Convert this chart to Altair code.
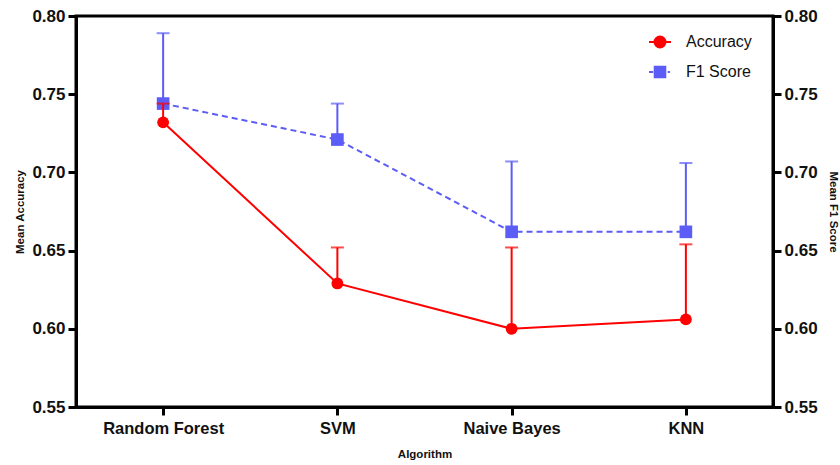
import altair as alt
import pandas as pd

algorithms = ["Random Forest", "SVM", "Naive Bayes", "KNN"]
accuracy = [0.732, 0.629, 0.600, 0.606]
accuracy_sd = [0.012, 0.023, 0.052, 0.048]
f1 = [0.744, 0.721, 0.662, 0.662]
f1_sd = [0.045, 0.023, 0.045, 0.044]
series = ["Accuracy", "F1 Score"]
y_ticks = [0.55, 0.60, 0.65, 0.70, 0.75, 0.80]

RED = "#ff0000"
BLUE = "#5c5cf6"
FONT = "Liberation Sans"

df = pd.DataFrame({
    "algorithm": algorithms,
    "acc": accuracy,
    "acc_hi": [a + s for a, s in zip(accuracy, accuracy_sd)],
    "f1": f1,
    "f1_hi": [a + s for a, s in zip(f1, f1_sd)],
})

base = alt.Chart(df)

x = alt.X(
    "algorithm:N",
    sort=algorithms,
    scale=alt.Scale(type="point", padding=0.5),
    axis=alt.Axis(title="Algorithm", labelAngle=0, labelPadding=5, labelFontSize=16.5,
                  titlePadding=12, titleFontSize=11.5, titleFontWeight="bold"),
)

yscale = alt.Scale(domain=[0.55, 0.80], nice=False, zero=False)

# F1 layer (right axis)
yf = alt.Y("f1:Q", scale=yscale,
           axis=alt.Axis(orient="right", title="Mean F1 Score", titleAngle=90,
                         values=y_ticks, format=".2f", titlePadding=10,
                         titleFontSize=11.5, titleFontWeight="bold"))
f1_line = base.mark_line(color=BLUE, strokeWidth=2, strokeDash=[6, 4]).encode(x=x, y=yf)
f1_rule = base.mark_rule(color=BLUE, strokeWidth=2).encode(x=x, y=yf, y2="f1_hi:Q")
f1_cap = base.mark_tick(color=BLUE, thickness=2, size=13).encode(
    x=x, y=alt.Y("f1_hi:Q", scale=yscale))
f1_pt = base.mark_point(shape="square", filled=True, size=160, color=BLUE, opacity=1).encode(x=x, y=yf)
f1_layer = alt.layer(f1_line, f1_rule, f1_cap, f1_pt)

# Accuracy layer (left axis)
ya = alt.Y("acc:Q", scale=yscale,
           axis=alt.Axis(orient="left", title="Mean Accuracy", values=y_ticks,
                         format=".2f", titlePadding=6, titleFontSize=11.5,
                         titleFontWeight="bold"))
acc_line = base.mark_line(color=RED, strokeWidth=2).encode(x=x, y=ya)
acc_rule = base.mark_rule(color=RED, strokeWidth=2).encode(x=x, y=ya, y2="acc_hi:Q")
acc_cap = base.mark_tick(color=RED, thickness=2, size=13).encode(
    x=x, y=alt.Y("acc_hi:Q", scale=yscale))
acc_pt = base.mark_point(shape="circle", filled=True, size=140, color=RED, opacity=1).encode(x=x, y=ya)

# Legend-only layer (no marks drawn)
leg_df = pd.DataFrame({"series": series})
acc_sym = "M-1,0L1,0M0.5,0A0.5,0.5,0,1,1,-0.5,0A0.5,0.5,0,1,1,0.5,0Z"
f1_sym = "M-1,0L-0.62,0M0.7,0L0.9,0M-0.48,-0.48L0.48,-0.48L0.48,0.48L-0.48,0.48Z"
legend_layer = alt.Chart(leg_df).transform_filter("false").mark_point(filled=True, opacity=1).encode(
    fill=alt.Fill("series:N", scale=alt.Scale(domain=series, range=[RED, BLUE]),
                  legend=alt.Legend(title=None, orient="none", legendX=572, legendY=14,
                                    symbolSize=484, symbolStrokeWidth=2, symbolOpacity=1,
                                    labelFontSize=16, labelFont=FONT, labelColor="#111111",
                                    labelOffset=14, rowPadding=8, padding=0)),
    stroke=alt.Stroke("series:N", scale=alt.Scale(domain=series, range=[RED, BLUE])),
    shape=alt.Shape("series:N", scale=alt.Scale(domain=series, range=[acc_sym, f1_sym])),
)

acc_layer = alt.layer(acc_line, acc_rule, acc_cap, acc_pt, legend_layer)

chart = alt.layer(f1_layer, acc_layer).resolve_scale(y="independent").properties(
    width=697, height=391,
    autosize=alt.AutoSizeParams(type="none"),
    padding={"left": 76, "top": 16, "right": 67, "bottom": 58},
).configure_view(
    stroke="black", strokeWidth=3
).configure_axis(
    domainColor="black", domainWidth=3, tickColor="black", tickWidth=3, tickSize=8,
    labelFont=FONT, labelFontSize=17, labelFontWeight="bold", labelColor="#111111",
    titleFont=FONT, titleColor="#111111", grid=False, labelPadding=3,
).configure_legend(
    symbolStrokeWidth=2
)

chart.save("out.html", embed_options={"renderer": "svg", "actions": False})
